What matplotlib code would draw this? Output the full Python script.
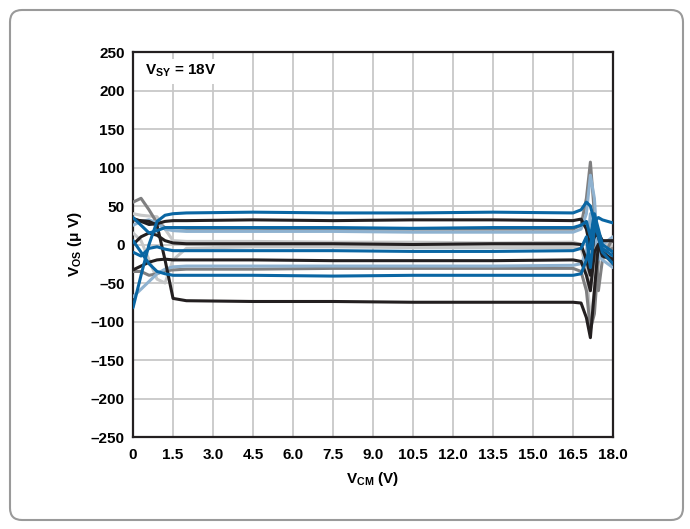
import matplotlib
matplotlib.use('Agg')
from matplotlib import pyplot as plt
from matplotlib.patches import FancyBboxPatch
from matplotlib.transforms import IdentityTransform

plt.rcParams['font.family'] = ['Liberation Sans', 'DejaVu Sans']
plt.rcParams['mathtext.fontset'] = 'custom'
plt.rcParams['mathtext.rm'] = 'Liberation Sans:bold'
plt.rcParams['mathtext.it'] = 'Liberation Sans:bold'
plt.rcParams['mathtext.bf'] = 'Liberation Sans:bold'

# V_CM sample points (V)
vcm = [0, 0.3, 0.6, 0.9, 1.2, 1.5, 2.0, 4.5, 7.5, 10.5, 13.5, 16.5,
       16.8, 17.0, 17.15, 17.3, 17.45, 17.6, 18.0]

# V_OS traces (uV)
blue_a = [-82, -40, 0, 30, 38, 40, 41, 42, 41, 41, 42, 41, 45, 55, 50, 30, 35, 32, 28]
black_a = [34, 30, 26, 27, 30, 31, 31, 32, 31, 32, 32, 31, 33, 20, -5, 10, 15, 5, 5]
blue_b = [35, 25, 15, 18, 22, 22, 22, 22, 22, 21, 22, 22, 25, 30, 10, 40, 20, 0, -10]
dgray_a = [55, 60, 45, 28, 22, 22, 21, 21, 20, 20, 20, 20, 25, 60, 107, 40, -60, -20, 10]
lblue_a = [25, 30, 32, 28, 20, 18, 17, 17, 17, 16, 16, 16, 20, 40, 90, 60, -20, 0, 10]
lgray_a = [40, 38, 37, 36, 20, 5, 4, 4, 3, 3, 2, 3, 0, -30, -60, -20, 10, 5, 0]
black_b = [0, 10, 15, 12, 5, 2, 1, 1, 1, 0, 1, 1, 0, -20, -40, 20, 10, -10, -20]
lgray_b = [15, 5, -20, -45, -50, -20, -5, -3, -3, -4, -4, -4, -5, -30, -100, -60, 0, 5, -5]
blue_c = [-10, -15, -5, -3, -6, -8, -8, -8, -8, -9, -9, -8, -5, 10, -30, 20, 15, -5, -15]
black_c = [-33, -28, -23, -20, -19, -20, -20, -20, -21, -21, -21, -20, -22, -40, -60, -10, 0, -15, -20]
lblue_b = [-68, -58, -48, -38, -32, -29, -28, -28, -28, -28, -28, -27, -25, -10, 40, 10, -10, -20, -30]
dgray_b = [-35, -35, -40, -38, -34, -33, -32, -32, -31, -31, -31, -31, -35, -60, -110, -90, -20, -10, -5]
blue_d = [5, -10, -25, -35, -38, -40, -40, -40, -41, -40, -40, -40, -38, -20, 0, 30, 10, -10, -25]
black_d = [32, 31, 30, 25, -20, -70, -73, -74, -74, -75, -75, -75, -76, -95, -121, -60, 0, -10, -25]

x_ticks = [0, 1.5, 3.0, 4.5, 6.0, 7.5, 9.0, 10.5, 12.0, 13.5, 15.0, 16.5, 18.0]
x_labels = ['0', '1.5', '3.0', '4.5', '6.0', '7.5', '9.0', '10.5', '12.0',
            '13.5', '15.0', '16.5', '18.0']
y_ticks = [-250, -200, -150, -100, -50, 0, 50, 100, 150, 200, 250]
y_labels = ['–250', '–200', '–150', '–100', '–50', '0', '50', '100', '150', '200', '250']

BLUE = '#0a66a3'
BLACK = '#231f20'
DGRAY = '#7f7f80'
LGRAY = '#c6c7c8'
LBLUE = '#8fb2d0'

fig = plt.figure(figsize=(6.9, 5.29), dpi=100)
ax = fig.add_axes([0.1928, 0.1739, 0.6957, 0.7278])

traces = [
    (lgray_a, LGRAY), (lgray_b, LGRAY), (dgray_a, DGRAY), (dgray_b, DGRAY),
    (lblue_a, LBLUE), (lblue_b, LBLUE),
    (black_a, BLACK), (black_b, BLACK), (black_c, BLACK), (black_d, BLACK),
    (blue_a, BLUE), (blue_b, BLUE), (blue_c, BLUE), (blue_d, BLUE),
]
for vals, col in traces:
    ax.plot(vcm, vals, color=col, lw=2.2, solid_joinstyle='round',
            solid_capstyle='round', zorder=3)

ax.set_xlim(0, 18)
ax.set_ylim(-250, 250)
ax.set_xticks(x_ticks)
ax.set_xticklabels(x_labels)
ax.set_yticks(y_ticks)
ax.set_yticklabels(y_labels)
ax.tick_params(axis='x', length=0, labelsize=11, pad=8)
ax.tick_params(axis='y', length=0, labelsize=11, pad=6)
for lab in ax.get_xticklabels() + ax.get_yticklabels():
    lab.set_fontweight('bold')
ax.grid(True, color='#c8c8c8', lw=1.3, zorder=0)
ax.set_axisbelow(True)
for s in ax.spines.values():
    s.set_linewidth(1.6)
    s.set_color('#231f20')

ax.set_xlabel(r'$\mathrm{V_{CM}}$ (V)', fontsize=11, fontweight='bold', labelpad=6)
ax.set_ylabel(r'$\mathrm{V_{OS}}$ ($\mathrm{\mu}$ V)', fontsize=11, fontweight='bold', labelpad=5)

ax.text(0.45, 225, r'$\mathrm{V_{SY}}$ = 18V', fontsize=11, fontweight='bold',
        va='center', ha='left', zorder=4,
        bbox=dict(facecolor='white', edgecolor='none', pad=3))

frame = FancyBboxPatch((10, 9), 673, 510, boxstyle='round,pad=0,rounding_size=12',
                       transform=IdentityTransform(), facecolor='none',
                       edgecolor='#9a9a9a', lw=1.5)
fig.patches.append(frame)

fig.savefig('out.png', dpi=100)
